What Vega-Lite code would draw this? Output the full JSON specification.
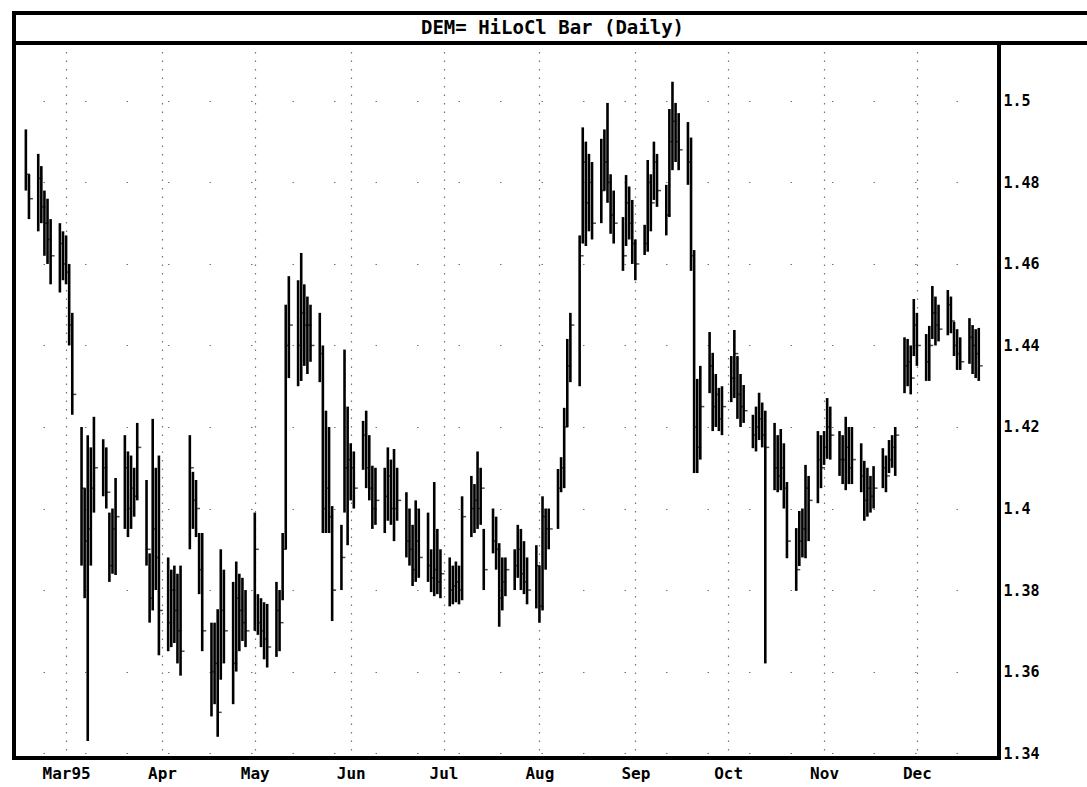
{
  "$schema": "https://vega.github.io/schema/vega-lite/v6.json",
  "background": "white",
  "padding": {"left": 10, "top": 9, "right": 0, "bottom": 0},
  "spacing": 0,
  "bounds": "flush",
  "config": {"view": {"stroke": "black", "strokeWidth": 4}, "font": "DejaVu Sans Mono"},
  "vconcat": [
    {
      "width": 1077,
      "height": 30,
      "view": {"stroke": "black", "strokeWidth": 4},
      "data": {"values": [{"t": "DEM= HiLoCl Bar (Daily)"}]},
      "layer": [
        {
          "mark": {"type": "rect", "fill": "white", "fillOpacity": 0, "stroke": "black", "strokeWidth": 4},
          "encoding": {}
        },
        {
          "mark": {"type": "text", "font": "DejaVu Sans Mono", "fontWeight": "bold", "fontSize": 19, "color": "black", "baseline": "middle", "align": "center"},
          "encoding": {"text": {"field": "t"}}
        }
      ]
    },
    {
      "width": 985,
      "height": 715,
      "data": {"values": [
        {"d":"1995-02-16","h":1.493,"l":1.478,"c":1.482},
        {"d":"1995-02-17","h":1.482,"l":1.471,"c":1.476},
        {"d":"1995-02-20","h":1.487,"l":1.468,"c":1.481},
        {"d":"1995-02-21","h":1.484,"l":1.470,"c":1.474},
        {"d":"1995-02-22","h":1.478,"l":1.462,"c":1.470},
        {"d":"1995-02-23","h":1.476,"l":1.460,"c":1.466},
        {"d":"1995-02-24","h":1.471,"l":1.455,"c":1.462},
        {"d":"1995-02-27","h":1.470,"l":1.453,"c":1.465},
        {"d":"1995-02-28","h":1.468,"l":1.456,"c":1.460},
        {"d":"1995-03-01","h":1.467,"l":1.455,"c":1.458},
        {"d":"1995-03-02","h":1.460,"l":1.440,"c":1.445},
        {"d":"1995-03-03","h":1.448,"l":1.423,"c":1.428},
        {"d":"1995-03-06","h":1.420,"l":1.386,"c":1.405},
        {"d":"1995-03-07","h":1.405,"l":1.378,"c":1.392},
        {"d":"1995-03-08","h":1.418,"l":1.343,"c":1.395},
        {"d":"1995-03-09","h":1.415,"l":1.386,"c":1.405},
        {"d":"1995-03-10","h":1.4225,"l":1.399,"c":1.410},
        {"d":"1995-03-13","h":1.417,"l":1.403,"c":1.410},
        {"d":"1995-03-14","h":1.415,"l":1.400,"c":1.404},
        {"d":"1995-03-15","h":1.399,"l":1.382,"c":1.386},
        {"d":"1995-03-16","h":1.400,"l":1.384,"c":1.395},
        {"d":"1995-03-17","h":1.4075,"l":1.3837,"c":1.398},
        {"d":"1995-03-20","h":1.418,"l":1.395,"c":1.410},
        {"d":"1995-03-21","h":1.414,"l":1.393,"c":1.400},
        {"d":"1995-03-22","h":1.413,"l":1.395,"c":1.405},
        {"d":"1995-03-23","h":1.410,"l":1.398,"c":1.403},
        {"d":"1995-03-24","h":1.421,"l":1.402,"c":1.415},
        {"d":"1995-03-27","h":1.407,"l":1.386,"c":1.390},
        {"d":"1995-03-28","h":1.389,"l":1.372,"c":1.378},
        {"d":"1995-03-29","h":1.422,"l":1.375,"c":1.395},
        {"d":"1995-03-30","h":1.410,"l":1.380,"c":1.388},
        {"d":"1995-03-31","h":1.413,"l":1.364,"c":1.375},
        {"d":"1995-04-03","h":1.388,"l":1.365,"c":1.372},
        {"d":"1995-04-04","h":1.385,"l":1.366,"c":1.380},
        {"d":"1995-04-05","h":1.386,"l":1.367,"c":1.375},
        {"d":"1995-04-06","h":1.384,"l":1.362,"c":1.370},
        {"d":"1995-04-07","h":1.386,"l":1.359,"c":1.365},
        {"d":"1995-04-10","h":1.418,"l":1.390,"c":1.410},
        {"d":"1995-04-11","h":1.409,"l":1.395,"c":1.402},
        {"d":"1995-04-12","h":1.407,"l":1.393,"c":1.400},
        {"d":"1995-04-13","h":1.394,"l":1.379,"c":1.385},
        {"d":"1995-04-14","h":1.394,"l":1.365,"c":1.370},
        {"d":"1995-04-17","h":1.372,"l":1.349,"c":1.360},
        {"d":"1995-04-18","h":1.372,"l":1.352,"c":1.362},
        {"d":"1995-04-19","h":1.3753,"l":1.344,"c":1.350},
        {"d":"1995-04-20","h":1.390,"l":1.358,"c":1.375},
        {"d":"1995-04-21","h":1.385,"l":1.362,"c":1.370},
        {"d":"1995-04-24","h":1.382,"l":1.352,"c":1.362},
        {"d":"1995-04-25","h":1.387,"l":1.360,"c":1.378},
        {"d":"1995-04-26","h":1.384,"l":1.365,"c":1.375},
        {"d":"1995-04-27","h":1.383,"l":1.3675,"c":1.372},
        {"d":"1995-04-28","h":1.380,"l":1.366,"c":1.370},
        {"d":"1995-05-01","h":1.399,"l":1.370,"c":1.390},
        {"d":"1995-05-02","h":1.379,"l":1.369,"c":1.372},
        {"d":"1995-05-03","h":1.378,"l":1.366,"c":1.370},
        {"d":"1995-05-04","h":1.377,"l":1.363,"c":1.368},
        {"d":"1995-05-05","h":1.3766,"l":1.361,"c":1.366},
        {"d":"1995-05-08","h":1.382,"l":1.3636,"c":1.375},
        {"d":"1995-05-09","h":1.380,"l":1.365,"c":1.372},
        {"d":"1995-05-10","h":1.394,"l":1.3775,"c":1.390},
        {"d":"1995-05-11","h":1.450,"l":1.390,"c":1.440},
        {"d":"1995-05-12","h":1.457,"l":1.432,"c":1.445},
        {"d":"1995-05-15","h":1.456,"l":1.430,"c":1.440},
        {"d":"1995-05-16","h":1.4627,"l":1.4313,"c":1.448},
        {"d":"1995-05-17","h":1.455,"l":1.435,"c":1.445},
        {"d":"1995-05-18","h":1.452,"l":1.433,"c":1.445},
        {"d":"1995-05-19","h":1.450,"l":1.436,"c":1.440},
        {"d":"1995-05-22","h":1.448,"l":1.431,"c":1.438},
        {"d":"1995-05-23","h":1.440,"l":1.394,"c":1.400},
        {"d":"1995-05-24","h":1.424,"l":1.394,"c":1.405},
        {"d":"1995-05-25","h":1.420,"l":1.394,"c":1.398},
        {"d":"1995-05-26","h":1.4006,"l":1.3724,"c":1.380},
        {"d":"1995-05-29","h":1.396,"l":1.380,"c":1.388},
        {"d":"1995-05-30","h":1.439,"l":1.399,"c":1.410},
        {"d":"1995-05-31","h":1.425,"l":1.391,"c":1.412},
        {"d":"1995-06-01","h":1.416,"l":1.402,"c":1.410},
        {"d":"1995-06-02","h":1.414,"l":1.400,"c":1.405},
        {"d":"1995-06-05","h":1.4215,"l":1.4095,"c":1.418},
        {"d":"1995-06-06","h":1.424,"l":1.405,"c":1.410},
        {"d":"1995-06-07","h":1.418,"l":1.402,"c":1.405},
        {"d":"1995-06-08","h":1.4105,"l":1.395,"c":1.400},
        {"d":"1995-06-09","h":1.410,"l":1.396,"c":1.402},
        {"d":"1995-06-12","h":1.410,"l":1.394,"c":1.403},
        {"d":"1995-06-13","h":1.415,"l":1.397,"c":1.408},
        {"d":"1995-06-14","h":1.412,"l":1.396,"c":1.400},
        {"d":"1995-06-15","h":1.4146,"l":1.392,"c":1.400},
        {"d":"1995-06-16","h":1.410,"l":1.397,"c":1.402},
        {"d":"1995-06-19","h":1.404,"l":1.388,"c":1.392},
        {"d":"1995-06-20","h":1.400,"l":1.386,"c":1.390},
        {"d":"1995-06-21","h":1.396,"l":1.381,"c":1.385},
        {"d":"1995-06-22","h":1.402,"l":1.382,"c":1.392},
        {"d":"1995-06-23","h":1.400,"l":1.383,"c":1.388},
        {"d":"1995-06-26","h":1.399,"l":1.382,"c":1.386},
        {"d":"1995-06-27","h":1.390,"l":1.3795,"c":1.383},
        {"d":"1995-06-28","h":1.4065,"l":1.3785,"c":1.385},
        {"d":"1995-06-29","h":1.395,"l":1.379,"c":1.382},
        {"d":"1995-06-30","h":1.390,"l":1.378,"c":1.384},
        {"d":"1995-07-03","h":1.388,"l":1.376,"c":1.380},
        {"d":"1995-07-04","h":1.386,"l":1.3765,"c":1.381},
        {"d":"1995-07-05","h":1.387,"l":1.377,"c":1.382},
        {"d":"1995-07-06","h":1.386,"l":1.3765,"c":1.380},
        {"d":"1995-07-07","h":1.403,"l":1.3775,"c":1.398},
        {"d":"1995-07-10","h":1.408,"l":1.393,"c":1.400},
        {"d":"1995-07-11","h":1.406,"l":1.394,"c":1.402},
        {"d":"1995-07-12","h":1.414,"l":1.395,"c":1.400},
        {"d":"1995-07-13","h":1.410,"l":1.396,"c":1.405},
        {"d":"1995-07-14","h":1.395,"l":1.380,"c":1.385},
        {"d":"1995-07-17","h":1.400,"l":1.389,"c":1.392},
        {"d":"1995-07-18","h":1.398,"l":1.385,"c":1.390},
        {"d":"1995-07-19","h":1.3915,"l":1.371,"c":1.378},
        {"d":"1995-07-20","h":1.388,"l":1.375,"c":1.382},
        {"d":"1995-07-21","h":1.388,"l":1.3785,"c":1.385},
        {"d":"1995-07-24","h":1.390,"l":1.380,"c":1.386},
        {"d":"1995-07-25","h":1.396,"l":1.383,"c":1.390},
        {"d":"1995-07-26","h":1.395,"l":1.380,"c":1.384},
        {"d":"1995-07-27","h":1.392,"l":1.379,"c":1.382},
        {"d":"1995-07-28","h":1.388,"l":1.3765,"c":1.380},
        {"d":"1995-07-31","h":1.391,"l":1.3755,"c":1.386},
        {"d":"1995-08-01","h":1.386,"l":1.372,"c":1.376},
        {"d":"1995-08-02","h":1.403,"l":1.375,"c":1.398},
        {"d":"1995-08-03","h":1.400,"l":1.385,"c":1.395},
        {"d":"1995-08-04","h":1.400,"l":1.390,"c":1.395},
        {"d":"1995-08-07","h":1.4097,"l":1.395,"c":1.405},
        {"d":"1995-08-08","h":1.4126,"l":1.404,"c":1.410},
        {"d":"1995-08-09","h":1.4247,"l":1.405,"c":1.420},
        {"d":"1995-08-10","h":1.4416,"l":1.420,"c":1.435},
        {"d":"1995-08-11","h":1.448,"l":1.431,"c":1.445},
        {"d":"1995-08-14","h":1.467,"l":1.430,"c":1.462},
        {"d":"1995-08-15","h":1.4935,"l":1.465,"c":1.485},
        {"d":"1995-08-16","h":1.490,"l":1.4644,"c":1.475},
        {"d":"1995-08-17","h":1.487,"l":1.468,"c":1.480},
        {"d":"1995-08-18","h":1.485,"l":1.466,"c":1.470},
        {"d":"1995-08-21","h":1.4907,"l":1.470,"c":1.478},
        {"d":"1995-08-22","h":1.493,"l":1.478,"c":1.485},
        {"d":"1995-08-23","h":1.4995,"l":1.475,"c":1.480},
        {"d":"1995-08-24","h":1.482,"l":1.4674,"c":1.472},
        {"d":"1995-08-25","h":1.478,"l":1.465,"c":1.470},
        {"d":"1995-08-28","h":1.4715,"l":1.4583,"c":1.462},
        {"d":"1995-08-29","h":1.4818,"l":1.4644,"c":1.475},
        {"d":"1995-08-30","h":1.479,"l":1.466,"c":1.470},
        {"d":"1995-08-31","h":1.4757,"l":1.460,"c":1.465},
        {"d":"1995-09-01","h":1.466,"l":1.456,"c":1.460},
        {"d":"1995-09-04","h":1.4696,"l":1.4622,"c":1.465},
        {"d":"1995-09-05","h":1.4855,"l":1.463,"c":1.480},
        {"d":"1995-09-06","h":1.482,"l":1.468,"c":1.475},
        {"d":"1995-09-07","h":1.490,"l":1.4757,"c":1.485},
        {"d":"1995-09-08","h":1.487,"l":1.474,"c":1.478},
        {"d":"1995-09-11","h":1.4794,"l":1.467,"c":1.472},
        {"d":"1995-09-12","h":1.498,"l":1.4715,"c":1.490},
        {"d":"1995-09-13","h":1.5047,"l":1.483,"c":1.495},
        {"d":"1995-09-14","h":1.4995,"l":1.485,"c":1.490},
        {"d":"1995-09-15","h":1.497,"l":1.483,"c":1.488},
        {"d":"1995-09-18","h":1.4948,"l":1.4794,"c":1.485},
        {"d":"1995-09-19","h":1.491,"l":1.4583,"c":1.462},
        {"d":"1995-09-20","h":1.4634,"l":1.4087,"c":1.420},
        {"d":"1995-09-21","h":1.4318,"l":1.4087,"c":1.415},
        {"d":"1995-09-22","h":1.435,"l":1.412,"c":1.425},
        {"d":"1995-09-25","h":1.4433,"l":1.4283,"c":1.435},
        {"d":"1995-09-26","h":1.4382,"l":1.419,"c":1.425},
        {"d":"1995-09-27","h":1.433,"l":1.420,"c":1.428},
        {"d":"1995-09-28","h":1.4296,"l":1.419,"c":1.422},
        {"d":"1995-09-29","h":1.430,"l":1.418,"c":1.425},
        {"d":"1995-10-02","h":1.4374,"l":1.4261,"c":1.432},
        {"d":"1995-10-03","h":1.4438,"l":1.4271,"c":1.438},
        {"d":"1995-10-04","h":1.4374,"l":1.422,"c":1.428},
        {"d":"1995-10-05","h":1.433,"l":1.420,"c":1.425},
        {"d":"1995-10-06","h":1.4303,"l":1.421,"c":1.424},
        {"d":"1995-10-09","h":1.423,"l":1.4148,"c":1.418},
        {"d":"1995-10-10","h":1.425,"l":1.414,"c":1.420},
        {"d":"1995-10-11","h":1.4284,"l":1.4168,"c":1.422},
        {"d":"1995-10-12","h":1.426,"l":1.415,"c":1.418},
        {"d":"1995-10-13","h":1.424,"l":1.362,"c":1.415},
        {"d":"1995-10-16","h":1.421,"l":1.4045,"c":1.410},
        {"d":"1995-10-17","h":1.418,"l":1.404,"c":1.408},
        {"d":"1995-10-18","h":1.4195,"l":1.4045,"c":1.410},
        {"d":"1995-10-19","h":1.416,"l":1.400,"c":1.405},
        {"d":"1995-10-20","h":1.4065,"l":1.3878,"c":1.392},
        {"d":"1995-10-23","h":1.3952,"l":1.3798,"c":1.385},
        {"d":"1995-10-24","h":1.3994,"l":1.3859,"c":1.392},
        {"d":"1995-10-25","h":1.400,"l":1.388,"c":1.395},
        {"d":"1995-10-26","h":1.4107,"l":1.3878,"c":1.405},
        {"d":"1995-10-27","h":1.408,"l":1.392,"c":1.402},
        {"d":"1995-10-30","h":1.419,"l":1.4013,"c":1.412},
        {"d":"1995-10-31","h":1.418,"l":1.405,"c":1.410},
        {"d":"1995-11-01","h":1.419,"l":1.4107,"c":1.415},
        {"d":"1995-11-02","h":1.4271,"l":1.4122,"c":1.420},
        {"d":"1995-11-03","h":1.425,"l":1.412,"c":1.418},
        {"d":"1995-11-06","h":1.419,"l":1.408,"c":1.412},
        {"d":"1995-11-07","h":1.418,"l":1.406,"c":1.412},
        {"d":"1995-11-08","h":1.4225,"l":1.4045,"c":1.415},
        {"d":"1995-11-09","h":1.420,"l":1.406,"c":1.410},
        {"d":"1995-11-10","h":1.420,"l":1.406,"c":1.412},
        {"d":"1995-11-13","h":1.416,"l":1.404,"c":1.408},
        {"d":"1995-11-14","h":1.4117,"l":1.397,"c":1.402},
        {"d":"1995-11-15","h":1.410,"l":1.398,"c":1.405},
        {"d":"1995-11-16","h":1.408,"l":1.399,"c":1.403},
        {"d":"1995-11-17","h":1.4104,"l":1.400,"c":1.405},
        {"d":"1995-11-20","h":1.4148,"l":1.405,"c":1.410},
        {"d":"1995-11-21","h":1.413,"l":1.404,"c":1.408},
        {"d":"1995-11-22","h":1.4168,"l":1.4087,"c":1.412},
        {"d":"1995-11-23","h":1.418,"l":1.410,"c":1.415},
        {"d":"1995-11-24","h":1.420,"l":1.408,"c":1.418},
        {"d":"1995-11-27","h":1.442,"l":1.4283,"c":1.435},
        {"d":"1995-11-28","h":1.4416,"l":1.430,"c":1.436},
        {"d":"1995-11-29","h":1.440,"l":1.428,"c":1.432},
        {"d":"1995-11-30","h":1.4514,"l":1.4374,"c":1.445},
        {"d":"1995-12-01","h":1.448,"l":1.435,"c":1.440},
        {"d":"1995-12-04","h":1.4428,"l":1.4313,"c":1.436},
        {"d":"1995-12-05","h":1.4448,"l":1.4313,"c":1.440},
        {"d":"1995-12-06","h":1.4546,"l":1.4416,"c":1.448},
        {"d":"1995-12-07","h":1.452,"l":1.440,"c":1.445},
        {"d":"1995-12-08","h":1.450,"l":1.441,"c":1.444},
        {"d":"1995-12-11","h":1.4536,"l":1.4425,"c":1.450},
        {"d":"1995-12-12","h":1.452,"l":1.443,"c":1.446},
        {"d":"1995-12-13","h":1.4458,"l":1.4374,"c":1.440},
        {"d":"1995-12-14","h":1.444,"l":1.434,"c":1.438},
        {"d":"1995-12-15","h":1.442,"l":1.434,"c":1.436},
        {"d":"1995-12-18","h":1.4467,"l":1.4355,"c":1.442},
        {"d":"1995-12-19","h":1.445,"l":1.433,"c":1.440},
        {"d":"1995-12-20","h":1.444,"l":1.432,"c":1.438},
        {"d":"1995-12-21","h":1.4443,"l":1.4313,"c":1.435}
      ]},
      "encoding": {
        "x": {
          "field": "d",
          "type": "temporal",
          "title": null,
          "scale": {
            "type": "utc",
            "domain": [
              {"year": 1995, "month": 2, "date": 12, "hours": 4, "utc": true},
              {"year": 1995, "month": 12, "date": 27, "hours": 13, "utc": true}
            ]
          },
          "axis": {
            "orient": "bottom",
            "values": [
              {"year": 1995, "month": 3, "date": 1, "utc": true},
              {"year": 1995, "month": 4, "date": 1, "utc": true},
              {"year": 1995, "month": 5, "date": 1, "utc": true},
              {"year": 1995, "month": 6, "date": 1, "utc": true},
              {"year": 1995, "month": 7, "date": 1, "utc": true},
              {"year": 1995, "month": 8, "date": 1, "utc": true},
              {"year": 1995, "month": 9, "date": 1, "utc": true},
              {"year": 1995, "month": 10, "date": 1, "utc": true},
              {"year": 1995, "month": 11, "date": 1, "utc": true},
              {"year": 1995, "month": 12, "date": 1, "utc": true}
            ],
            "labelExpr": "utcFormat(datum.value, '%m') == '03' ? 'Mar95' : utcFormat(datum.value, '%b')",
            "grid": true,
            "gridDash": [1.5, 7],
            "gridColor": "black",
            "gridOpacity": 0.55,
            "gridWidth": 1.2,
            "ticks": false,
            "tickSize": 0,
            "domain": false,
            "labelFont": "DejaVu Sans Mono",
            "labelFontSize": 16,
            "labelFontWeight": "bold",
            "labelColor": "black",
            "labelPadding": 7,
            "labelBaseline": "top",
            "labelFlush": false,
            "labelOverlap": false
          }
        }
      },
      "layer": [
        {
          "mark": {"type": "rule", "color": "black", "strokeWidth": 2.6},
          "encoding": {
            "y": {
              "field": "l",
              "type": "quantitative",
              "title": null,
              "scale": {"domain": [1.3388, 1.5142], "nice": false, "zero": false},
              "axis": {
                "orient": "right",
                "values": [1.34, 1.36, 1.38, 1.4, 1.42, 1.44, 1.46, 1.48, 1.5],
                "labelExpr": "format(datum.value, '.2~f')",
                "grid": true,
                "gridDash": [1.5, 40],
                "gridColor": "black",
                "gridOpacity": 0.55,
                "gridWidth": 1.2,
                "ticks": false,
                "tickSize": 0,
                "domain": false,
                "labelFont": "DejaVu Sans Mono",
                "labelFontSize": 15,
                "labelFontWeight": "bold",
                "labelColor": "black",
                "labelPadding": 4,
                "labelFlush": false,
                "labelOverlap": false
              }
            },
            "y2": {"field": "h"}
          }
        },
        {
          "mark": {"type": "tick", "orient": "horizontal", "color": "black", "size": 4, "thickness": 1.5, "xOffset": 2},
          "encoding": {
            "y": {"field": "c", "type": "quantitative"}
          }
        }
      ]
    }
  ]
}
